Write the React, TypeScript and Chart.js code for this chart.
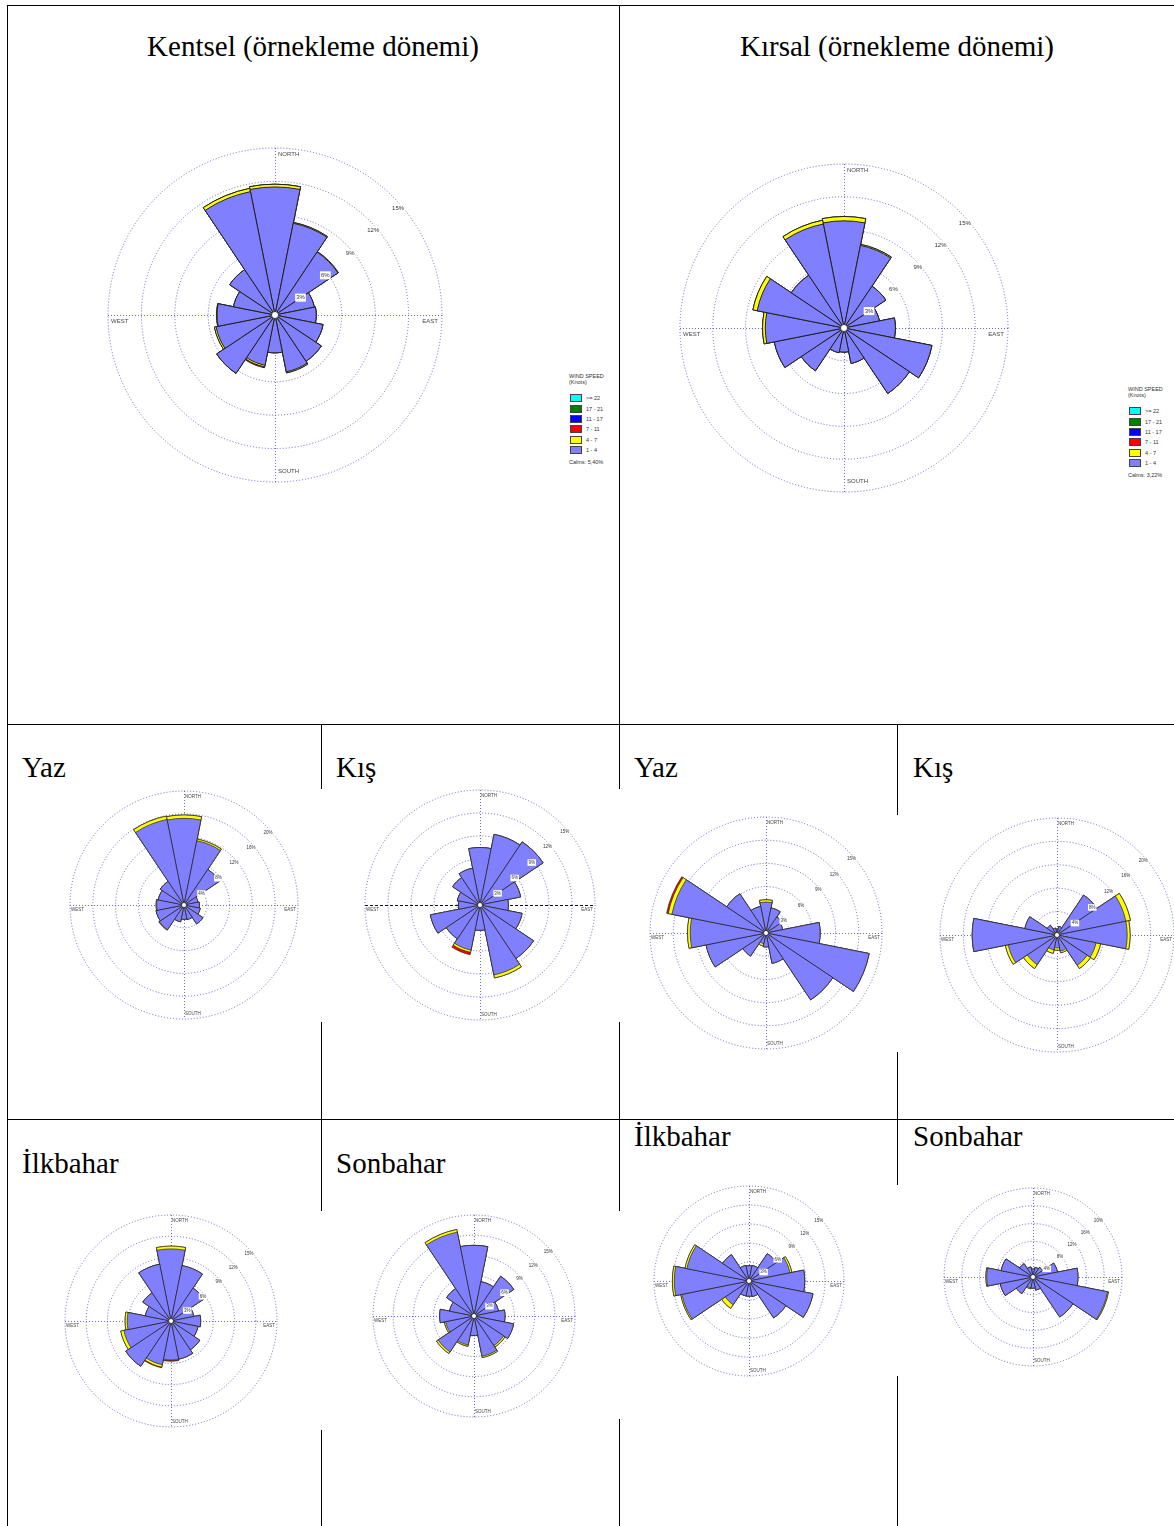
import React, { useEffect, useRef } from 'react';
import { Chart, registerables } from 'chart.js';

Chart.register(...registerables);

// ---------- categories / labels ----------
const DIRECTIONS = ['N', 'NNE', 'NE', 'ENE', 'E', 'ESE', 'SE', 'SSE', 'S', 'SSW', 'SW', 'WSW', 'W', 'WNW', 'NW', 'NNW'];
const SPEED_LABELS = ['>= 22', '17 - 21', '11 - 17', '7 - 11', '4 - 7', '1 - 4'];
const SPEED_COLORS = ['#00ffff', '#008000', '#0000ff', '#ff0000', '#ffff00', '#8080ff'];
const TICKS_3 = [3, 6, 9, 12, 15];
const TICKS_4 = [4, 8, 12, 16, 20];
const CALMS_KENTSEL = 'Calms: 5,40%';
const CALMS_KIRSAL = 'Calms: 3,22%';

// ---------- data (% frequency, by direction N..NNW) ----------
// Kentsel (örnekleme dönemi)
const kentselAll_1_4 = [11.5, 8.4, 6.8, 3.6, 3.7, 4.4, 5.0, 5.2, 3.4, 4.6, 6.3, 5.4, 5.2, 3.8, 4.9, 11.3];
const kentselAll_4_7 = [0.25, 0.08, 0.05, 0, 0, 0, 0, 0.1, 0, 0.15, 0, 0.15, 0.05, 0, 0, 0.3];
const kentselAll_7_11 = [0, 0, 0, 0, 0, 0, 0, 0, 0, 0.08, 0, 0, 0, 0, 0, 0];
// Kırsal (örnekleme dönemi)
const kirsalAll_1_4 = [9.8, 7.7, 4.6, 3.3, 4.7, 8.2, 7.2, 3.3, 2.2, 2.3, 4.7, 6.5, 7.2, 8.1, 5.8, 9.7];
const kirsalAll_4_7 = [0.4, 0.1, 0, 0, 0, 0, 0, 0, 0, 0, 0, 0, 0.25, 0.4, 0, 0.35];
const kirsalAll_7_11 = [0, 0, 0, 0, 0, 0, 0, 0, 0, 0, 0, 0, 0, 0, 0, 0];
// Kentsel Yaz
const kentselYaz_1_4 = [15.2, 11.5, 7.5, 2.5, 2.7, 2.9, 4.0, 2.6, 2.5, 3.0, 5.2, 5.0, 4.8, 4.6, 5.0, 15.3];
const kentselYaz_4_7 = [0.6, 0.3, 0, 0, 0, 0, 0, 0, 0, 0, 0.1, 0, 0.1, 0, 0, 0.6];
const kentselYaz_7_11 = [0, 0, 0, 0, 0, 0, 0, 0, 0, 0, 0, 0, 0, 0, 0, 0];
// Kentsel Kış
const kentselKis_1_4 = [7.5, 9.4, 9.9, 5.4, 3.7, 5.6, 8.4, 9.3, 3.3, 6.0, 5.3, 6.6, 2.8, 3.0, 4.3, 4.9];
const kentselKis_4_7 = [0, 0, 0, 0, 0, 0, 0, 0.4, 0, 0.3, 0, 0, 0, 0, 0, 0];
const kentselKis_7_11 = [0, 0, 0, 0, 0, 0, 0, 0, 0, 0.3, 0, 0, 0, 0, 0, 0];
// Kırsal Yaz
const kirsalYaz_1_4 = [4.0, 3.3, 2.5, 2.2, 7.0, 13.6, 10.4, 4.0, 1.8, 1.4, 3.6, 7.9, 9.8, 12.4, 6.1, 3.5];
const kirsalYaz_4_7 = [0.3, 0, 0, 0, 0, 0, 0, 0, 0, 0.3, 0, 0, 0.35, 0.5, 0, 0];
const kirsalYaz_7_11 = [0, 0, 0, 0, 0, 0, 0, 0, 0, 0, 0, 0, 0, 0.2, 0, 0];
// Kırsal Kış
const kirsalKis_1_4 = [1.0, 1.5, 8.2, 12.0, 12.0, 6.8, 6.2, 2.8, 2.2, 2.6, 6.1, 8.5, 14.5, 5.6, 2.0, 1.2];
const kirsalKis_4_7 = [0, 0, 0, 0.8, 0.5, 0.8, 0.7, 0.3, 0.4, 0.6, 0.8, 0.5, 0, 0, 0, 0];
const kirsalKis_7_11 = [0, 0, 0, 0, 0, 0, 0, 0, 0, 0, 0, 0, 0, 0, 0, 0];
// Kentsel İlkbahar
const kentselIlk_1_4 = [10.2, 8.0, 5.6, 3.3, 4.2, 3.9, 4.9, 5.5, 5.5, 6.3, 7.7, 6.8, 6.2, 3.7, 4.8, 8.2];
const kentselIlk_4_7 = [0.4, 0, 0, 0, 0, 0, 0, 0, 0.1, 0.35, 0, 0.45, 0.3, 0, 0, 0];
const kentselIlk_7_11 = [0, 0, 0, 0, 0, 0, 0, 0, 0.1, 0.1, 0, 0, 0, 0, 0, 0];
// Kentsel Sonbahar
const kentselSon_1_4 = [10.5, 5.2, 7.1, 3.7, 4.6, 6.0, 5.3, 6.1, 2.9, 4.4, 6.4, 4.3, 5.1, 3.7, 4.9, 12.7];
const kentselSon_4_7 = [0, 0, 0, 0, 0, 0, 0.25, 0.2, 0, 0.2, 0.3, 0.2, 0, 0, 0, 0.4];
const kentselSon_7_11 = [0, 0, 0, 0, 0, 0, 0, 0, 0, 0, 0, 0, 0, 0, 0, 0];
// Kırsal İlkbahar
const kirsalIlk_1_4 = [2.4, 2.5, 5.2, 6.6, 8.8, 10.3, 7.0, 2.5, 2.4, 2.4, 4.5, 10.8, 11.8, 10.0, 5.0, 2.5];
const kirsalIlk_4_7 = [0, 0, 0, 0.3, 0, 0, 0, 0, 0, 0, 0.7, 0.2, 0.3, 0.3, 0, 0];
const kirsalIlk_7_11 = [0, 0, 0, 0, 0, 0, 0, 0, 0, 0, 0, 0, 0, 0, 0, 0];
// Kırsal Sonbahar
const kirsalSon_1_4 = [1.8, 2.2, 2.6, 5.6, 10.1, 17.1, 10.8, 3.0, 2.5, 2.5, 4.5, 7.5, 10.4, 7.3, 3.6, 2.3];
const kirsalSon_4_7 = [0, 0, 0, 0, 0, 0.2, 0, 0, 0, 0.2, 0, 0, 0.2, 0, 0, 0];
const kirsalSon_7_11 = [0, 0, 0, 0, 0, 0, 0, 0, 0, 0, 0, 0, 0, 0, 0, 0];

// ---------- layout ----------
const PAD = 6;
const GRID_COLOR = 'rgba(80,80,200,0.85)';
const GRID_DASH = [1, 2];
const SERIF = '"Liberation Serif", "Times New Roman", serif';
const SANS = '"Liberation Sans", Arial, sans-serif';

type RoseCfg = {
  cx: number; cy: number; R: number; ticks: number[];
  s14: number[]; s47: number[]; s711: number[];
  big: boolean; hAxisColor?: string; hAxisDash?: number[];
};

const ROSES: RoseCfg[] = [
  { cx: 275, cy: 315, R: 167, ticks: TICKS_3, s14: kentselAll_1_4, s47: kentselAll_4_7, s711: kentselAll_7_11, big: true },
  { cx: 844, cy: 328, R: 164, ticks: TICKS_3, s14: kirsalAll_1_4, s47: kirsalAll_4_7, s711: kirsalAll_7_11, big: true },
  { cx: 184, cy: 905, R: 114, ticks: TICKS_4, s14: kentselYaz_1_4, s47: kentselYaz_4_7, s711: kentselYaz_7_11, big: false },
  { cx: 480, cy: 905, R: 115, ticks: TICKS_3, s14: kentselKis_1_4, s47: kentselKis_4_7, s711: kentselKis_7_11, big: false, hAxisColor: '#111', hAxisDash: [3, 2] },
  { cx: 766, cy: 933, R: 116, ticks: TICKS_3, s14: kirsalYaz_1_4, s47: kirsalYaz_4_7, s711: kirsalYaz_7_11, big: false },
  { cx: 1057, cy: 935, R: 117, ticks: TICKS_4, s14: kirsalKis_1_4, s47: kirsalKis_4_7, s711: kirsalKis_7_11, big: false },
  { cx: 171, cy: 1321, R: 106, ticks: TICKS_3, s14: kentselIlk_1_4, s47: kentselIlk_4_7, s711: kentselIlk_7_11, big: false },
  { cx: 474, cy: 1316, R: 101, ticks: TICKS_3, s14: kentselSon_1_4, s47: kentselSon_4_7, s711: kentselSon_7_11, big: false },
  { cx: 749, cy: 1281, R: 95, ticks: TICKS_3, s14: kirsalIlk_1_4, s47: kirsalIlk_4_7, s711: kirsalIlk_7_11, big: false },
  { cx: 1033, cy: 1277, R: 89, ticks: TICKS_4, s14: kirsalSon_1_4, s47: kirsalSon_4_7, s711: kirsalSon_7_11, big: false },
];

// table border segments
const H_LINES: [number, number, number][] = [[7, 1174, 5], [7, 1174, 724], [7, 1174, 1119]];
const V_LINES: [number, number, number][] = [
  [7, 5, 1526], [619, 5, 789], [619, 1022, 1211], [619, 1419, 1526],
  [321, 724, 789], [321, 1022, 1211], [321, 1430, 1526],
  [897, 724, 815], [897, 1052, 1185], [897, 1376, 1526],
];

const TITLES: { text: string; x: number; base: number; center?: boolean }[] = [
  { text: 'Kentsel (örnekleme dönemi)', x: 313, base: 56, center: true },
  { text: 'Kırsal (örnekleme dönemi)', x: 897, base: 56, center: true },
  { text: 'Yaz', x: 22, base: 777 },
  { text: 'Kış', x: 336, base: 777 },
  { text: 'Yaz', x: 634, base: 777 },
  { text: 'Kış', x: 913, base: 777 },
  { text: 'İlkbahar', x: 22, base: 1173 },
  { text: 'Sonbahar', x: 336, base: 1173 },
  { text: 'İlkbahar', x: 634, base: 1146 },
  { text: 'Sonbahar', x: 913, base: 1146 },
];

function WindRose({ cfg }: { cfg: RoseCfg }) {
  const ref = useRef<HTMLCanvasElement>(null);
  const S = 2 * cfg.R + 2 * PAD;
  useEffect(() => {
    if (!ref.current) return;
    const cum1 = cfg.s14.slice();
    const cum2 = cum1.map((v, i) => v + cfg.s47[i]);
    const cum3 = cum2.map((v, i) => v + cfg.s711[i]);
    const max = cfg.ticks[cfg.ticks.length - 1];
    const step = cfg.ticks[0];
    const fs = cfg.big ? 6 : 4.5;
    const bw = cfg.big ? 1 : 0.7;
    const decor = {
      id: 'roseDecor',
      beforeDatasetsDraw(chart: any) {
        const r = chart.scales.r;
        const ctx = chart.ctx;
        const cx = r.xCenter, cy = r.yCenter, R = r.drawingArea;
        ctx.save();
        ctx.lineWidth = 1;
        ctx.strokeStyle = GRID_COLOR;
        ctx.setLineDash(GRID_DASH);
        ctx.beginPath(); ctx.moveTo(cx + 0.5, cy - R); ctx.lineTo(cx + 0.5, cy + R); ctx.stroke();
        ctx.strokeStyle = cfg.hAxisColor || GRID_COLOR;
        ctx.setLineDash(cfg.hAxisDash || GRID_DASH);
        ctx.beginPath(); ctx.moveTo(cx - R, cy + 0.5); ctx.lineTo(cx + R, cy + 0.5); ctx.stroke();
        ctx.restore();
      },
      afterDatasetsDraw(chart: any) {
        const r = chart.scales.r;
        const ctx = chart.ctx;
        const cx = r.xCenter, cy = r.yCenter, R = r.drawingArea;
        ctx.save();
        // calms circle
        ctx.beginPath();
        ctx.arc(cx, cy, cfg.big ? 3.5 : 2.5, 0, Math.PI * 2);
        ctx.fillStyle = '#fff';
        ctx.fill();
        ctx.lineWidth = 0.8;
        ctx.strokeStyle = '#222';
        ctx.stroke();
        // ring labels
        ctx.font = `${fs}px ${SANS}`;
        ctx.textAlign = 'right';
        ctx.textBaseline = 'middle';
        const k = fs / 6;
        const a = (48 * Math.PI) / 180;
        cfg.ticks.forEach((v) => {
          const d = r.getDistanceFromCenterForValue(v);
          const x = cx + d * Math.sin(a) + 5 * k;
          const y = cy - d * Math.cos(a) + 5 * k;
          const txt = `${v}%`;
          const w = ctx.measureText(txt).width;
          ctx.fillStyle = '#fff';
          ctx.fillRect(x - w - 1, y - fs / 2 - 1, w + 2, fs + 2);
          ctx.fillStyle = '#333';
          ctx.fillText(txt, x, y);
        });
        // compass labels
        ctx.fillStyle = '#444';
        const o = cfg.big ? { n: [3, 3], s: [3, 8], w: [3, 3], e: [4, 3] } : { n: [1, 4], s: [1, 3], w: [1, 3], e: [2, 3] };
        ctx.textAlign = 'left'; ctx.textBaseline = 'top';
        ctx.fillText('NORTH', cx + o.n[0], cy - R + o.n[1]);
        ctx.fillText('WEST', cx - R + o.w[0], cy + o.w[1]);
        ctx.textBaseline = 'bottom';
        ctx.fillText('SOUTH', cx + o.s[0], cy + R - o.s[1]);
        ctx.textAlign = 'right'; ctx.textBaseline = 'top';
        ctx.fillText('EAST', cx + R - o.e[0], cy + o.e[1]);
        ctx.restore();
      },
    };
    const chart = new Chart(ref.current, {
      type: 'polarArea',
      data: {
        labels: DIRECTIONS,
        datasets: [
          { label: SPEED_LABELS[5], data: cum1, backgroundColor: SPEED_COLORS[5], borderColor: '#222', borderWidth: bw },
          { label: SPEED_LABELS[4], data: cum2, backgroundColor: SPEED_COLORS[4], borderColor: '#222', borderWidth: bw },
          { label: SPEED_LABELS[3], data: cum3, backgroundColor: SPEED_COLORS[3], borderColor: '#222', borderWidth: bw },
        ],
      },
      options: {
        responsive: false,
        animation: false,
        events: [],
        layout: { padding: PAD },
        plugins: { legend: { display: false }, tooltip: { enabled: false } },
        scales: {
          r: {
            min: 0,
            max,
            startAngle: -11.25,
            ticks: { display: false, stepSize: step },
            grid: { display: true, circular: true, color: GRID_COLOR, lineWidth: 1 },
            border: { dash: GRID_DASH },
            angleLines: { display: false },
            pointLabels: { display: false },
          },
        },
      } as any,
      plugins: [decor],
    });
    return () => chart.destroy();
  }, []);
  return (
    <canvas
      ref={ref}
      width={S}
      height={S}
      style={{ position: 'absolute', left: cfg.cx - cfg.R - PAD, top: cfg.cy - cfg.R - PAD, width: S, height: S }}
    />
  );
}

function Legend({ left, top, calms }: { left: number; top: number; calms: string }) {
  const txt: React.CSSProperties = { position: 'absolute', fontFamily: SANS, fontSize: 5.5, color: '#333', whiteSpace: 'nowrap', lineHeight: '6px' };
  const swTops = [23, 33.5, 44, 54, 64.5, 74.5];
  return (
    <div style={{ position: 'absolute', left, top }}>
      <div style={{ ...txt, left: 0, top: 2 }}>WIND SPEED</div>
      <div style={{ ...txt, left: 0, top: 8 }}>(Knots)</div>
      {SPEED_LABELS.map((lab, i) => (
        <React.Fragment key={lab}>
          <div style={{ position: 'absolute', left: 1, top: swTops[i], width: 10, height: 6, background: SPEED_COLORS[i], border: '0.5px solid #444' }} />
          <div style={{ ...txt, left: 17, top: swTops[i] + 1 }}>{lab}</div>
        </React.Fragment>
      ))}
      <div style={{ ...txt, left: 0, top: 88 }}>{calms}</div>
    </div>
  );
}

export default function App() {
  return (
    <div style={{ position: 'absolute', left: 0, top: 0, width: 1174, height: 1526, overflow: 'hidden', background: '#fff' }}>
      {H_LINES.map(([x1, x2, y], i) => (
        <div key={'h' + i} style={{ position: 'absolute', left: x1, top: y, width: x2 - x1, height: 1, background: '#000' }} />
      ))}
      {V_LINES.map(([x, y1, y2], i) => (
        <div key={'v' + i} style={{ position: 'absolute', left: x, top: y1, width: 1, height: y2 - y1, background: '#000' }} />
      ))}
      {TITLES.map((t, i) => (
        <div
          key={'t' + i}
          style={{
            position: 'absolute',
            top: t.base - 24.3,
            left: t.center ? t.x - 300 : t.x,
            width: t.center ? 600 : undefined,
            textAlign: t.center ? 'center' : 'left',
            fontFamily: SERIF,
            fontSize: 29,
            lineHeight: 1,
            color: '#000',
            whiteSpace: 'nowrap',
          }}
        >
          {t.text}
        </div>
      ))}
      {ROSES.map((cfg, i) => (
        <WindRose key={'r' + i} cfg={cfg} />
      ))}
      <Legend left={569} top={371} calms={CALMS_KENTSEL} />
      <Legend left={1128} top={384} calms={CALMS_KIRSAL} />
    </div>
  );
}
